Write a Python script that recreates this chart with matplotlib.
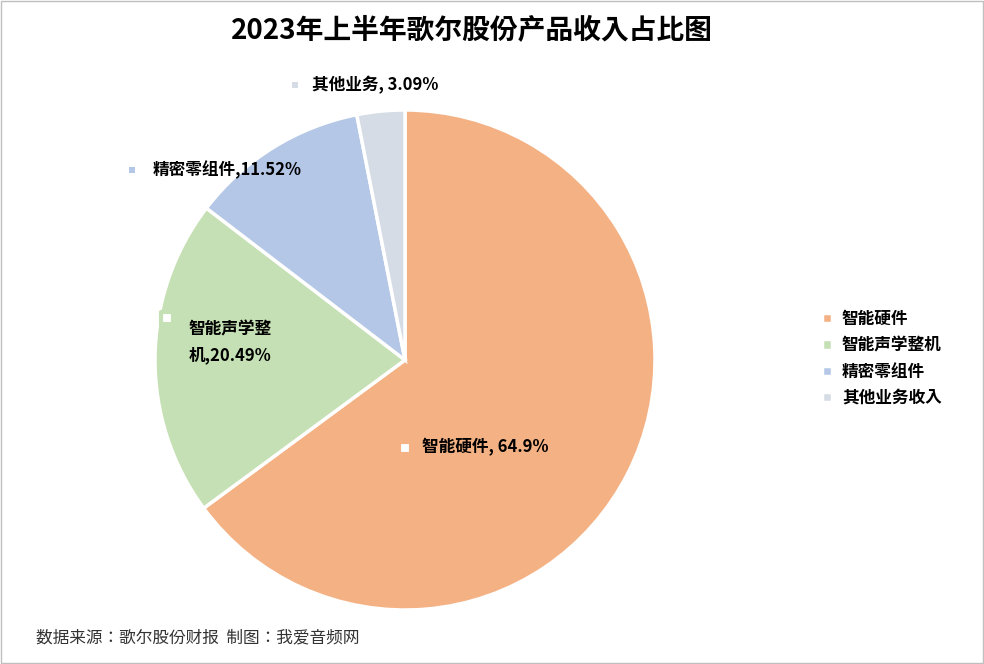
import matplotlib
matplotlib.use("Agg")
import matplotlib.pyplot as plt
from matplotlib import font_manager as fm
from matplotlib.patches import Rectangle

cjk = None
for f in fm.fontManager.ttflist:
    if "CJK" in f.name and ("SC" in f.name or cjk is None):
        cjk = f.name
        if "SC" in f.name:
            break
plt.rcParams["font.family"] = [cjk or "Noto Sans CJK SC", "DejaVu Sans"]

categories = ["智能硬件", "智能声学整机", "精密零组件", "其他业务收入"]
values = [64.9, 20.49, 11.52, 3.09]
label_texts = ["智能硬件, 64.9%", "智能声学整\n机,20.49%", "精密零组件,11.52%", "其他业务, 3.09%"]
colors = ["#F4B183", "#C5E0B4", "#B4C7E7", "#D6DCE5"]

fig = plt.figure(figsize=(9.84, 6.64), dpi=100)
fig.patches.append(Rectangle((0.001, 0.001), 0.998, 0.998, transform=fig.transFigure,
                             fill=False, edgecolor="#BFBFBF", linewidth=1))
ax = fig.add_axes([405/984 - 250/984, 1 - (360 + 250)/664, 500/984, 500/664])
wedges, _ = ax.pie(values, colors=colors, startangle=90, counterclock=False,
                   wedgeprops=dict(edgecolor="white", linewidth=2.5))
ax.set_xlim(-1, 1); ax.set_ylim(-1, 1); ax.set_aspect("equal")

label_pos = [(0.07, -0.35), (-0.70, 0.07), (-1.01, 0.76), (-0.37, 1.10)]
marker_pos = [(0.0, -0.35), (-0.95, 0.17), (-1.09, 0.76), (-0.44, 1.10)]
for (x, y), (mx, my), t, c, i in zip(label_pos, marker_pos, label_texts, colors, range(4)):
    ax.text(x, y, t, ha="left" if i != 1 else "center", va="center", fontsize=12,
            fontweight="bold", color="#000000", clip_on=False, linespacing=1.6)
    if i in (0, 1):
        ax.scatter([mx], [my], marker="s", s=70, facecolor="white", edgecolor=c,
                   linewidth=3, clip_on=False, zorder=5)
    else:
        ax.scatter([mx], [my], marker="s", s=25, facecolor=c, linewidth=0,
                   clip_on=False, zorder=5)

fig.legend(wedges, categories, loc="center left", bbox_to_anchor=(0.82, 0.46),
           frameon=False, prop={"size": 12, "weight": "bold"},
           handlelength=0.6, handleheight=0.6, handletextpad=0.6, labelspacing=0.5)

fig.text(0.48, 0.955, "2023年上半年歌尔股份产品收入占比图", ha="center", va="center",
         fontsize=20, fontweight="bold")
fig.text(0.037, 0.04, "数据来源：歌尔股份财报  制图：我爱音频网", ha="left", va="center",
         fontsize=12, color="#333333")
fig.savefig("out.png", dpi=100)
